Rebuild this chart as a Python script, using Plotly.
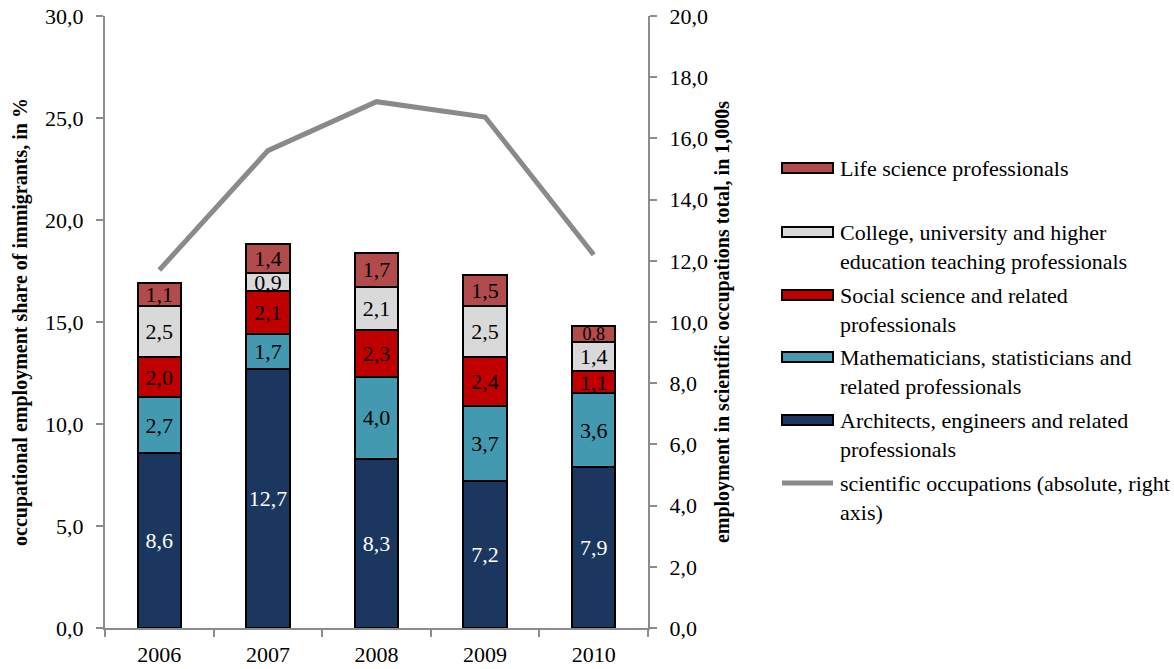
import plotly.graph_objects as go

# ---- data -------------------------------------------------------------
years = ["2006", "2007", "2008", "2009", "2010"]

architects = [8.6, 12.7, 8.3, 7.2, 7.9]
mathematicians = [2.7, 1.7, 4.0, 3.7, 3.6]
social_science = [2.0, 2.1, 2.3, 2.4, 1.1]
college_teaching = [2.5, 0.9, 2.1, 2.5, 1.4]
life_science = [1.1, 1.4, 1.7, 1.5, 0.8]

scientific_total = [11.7, 15.6, 17.2, 16.7, 12.2]  # in 1,000s, right axis

series_names = [
    "Architects, engineers and related professionals",
    "Mathematicians, statisticians and related professionals",
    "Social science and related professionals",
    "College, university and higher education teaching professionals",
    "Life science professionals",
]
legend_labels = [
    "Architects, engineers and related<br>professionals",
    "Mathematicians, statisticians and<br>related professionals",
    "Social science and related<br>professionals",
    "College, university and higher<br>education teaching professionals",
    "Life science professionals",
]
line_name = "scientific occupations (absolute, right axis)"
line_label = "scientific occupations (absolute, right<br>axis)"

series_values = [architects, mathematicians, social_science, college_teaching, life_science]
fill_colors = ["#1B375F", "#4399B0", "#C00000", "#D9D9D9", "#B24B4B"]
label_colors = ["white", "black", "black", "black", "black"]

FONT = "Liberation Serif"
AXIS_GRAY = "#8C8C8C"
TXT = 22

# ---- plot area geometry (pixels) --------------------------------------
W, H = 1174, 669
L, R, T, B = 105, 648, 16, 628


def px(x):
    return (x - L) / (R - L)


def py(y):
    return (B - y) / (B - T)


fig = go.Figure()

for name, vals, fc, tc in zip(series_names, series_values, fill_colors, label_colors):
    # very thin segments get a slightly smaller label so it stays legible
    sizes = [TXT if v >= 0.85 else 18 for v in vals]
    fig.add_trace(go.Bar(
        x=years, y=vals, name=name,
        marker=dict(color=fc, line=dict(color="black", width=2)),
        width=0.4,
        texttemplate="%{y:.1f}",
        textposition="inside",
        insidetextanchor="middle",
        textangle=0,
        constraintext="none",
        textfont=dict(family=FONT, size=sizes, color=tc),
        cliponaxis=False,
        showlegend=False,
        hoverinfo="skip",
    ))

fig.add_trace(go.Scatter(
    x=years, y=scientific_total, name=line_name, yaxis="y2",
    mode="lines", line=dict(color="#8A8A8A", width=5),
    showlegend=False, hoverinfo="skip",
))

# ---- hand-built legend on the right -----------------------------------
shapes = []
annotations = []
legend_rows = [(168, 4), (232, 3), (295, 2), (357, 1), (420, 0)]
for yc, idx in legend_rows:
    shapes.append(dict(
        type="rect", xref="paper", yref="paper",
        x0=px(782), x1=px(833), y0=py(yc + 5), y1=py(yc - 5),
        fillcolor=fill_colors[idx], line=dict(color="black", width=2),
    ))
    annotations.append(dict(
        xref="paper", yref="paper", x=px(838), y=py(yc - 14),
        xanchor="left", yanchor="top", align="left", showarrow=False,
        text=legend_labels[idx], font=dict(family=FONT, size=TXT, color="black"),
    ))

shapes.append(dict(
    type="line", xref="paper", yref="paper",
    x0=px(782), x1=px(833), y0=py(483), y1=py(483),
    line=dict(color="#8A8A8A", width=5),
))
annotations.append(dict(
    xref="paper", yref="paper", x=px(838), y=py(483 - 14),
    xanchor="left", yanchor="top", align="left", showarrow=False,
    text=line_label, font=dict(family=FONT, size=TXT, color="black"),
))

tick_font = dict(family=FONT, size=TXT, color="black")
title_font = dict(family=FONT, size=20, color="black")

fig.update_layout(
    width=W, height=H,
    margin=dict(l=L, r=W - R, t=T, b=H - B, pad=0, autoexpand=False),
    barmode="stack",
    plot_bgcolor="white", paper_bgcolor="white",
    separators=", ",
    font=dict(family=FONT, size=TXT, color="black"),
    xaxis=dict(
        type="category", automargin=False,
        showline=True, linecolor=AXIS_GRAY, linewidth=2,
        ticks="outside", tickson="boundaries", ticklen=7, tickcolor=AXIS_GRAY, tickwidth=2,
        tickfont=tick_font, ticklabelstandoff=6,
        showgrid=False, zeroline=False,
    ),
    yaxis=dict(
        range=[0, 30], dtick=5, tickformat=".1f", automargin=False,
        showline=True, linecolor=AXIS_GRAY, linewidth=2,
        ticks="outside", ticklen=7, tickcolor=AXIS_GRAY, tickwidth=2,
        tickfont=tick_font, ticklabelstandoff=8,
        showgrid=False, zeroline=False,
        title=dict(text="<b>occupational employment share of immigrants, in %</b>",
                   font=title_font, standoff=12),
    ),
    yaxis2=dict(
        overlaying="y", side="right", automargin=False,
        range=[0, 20], dtick=2, tickformat=".1f",
        showline=True, linecolor=AXIS_GRAY, linewidth=2,
        ticks="outside", ticklen=7, tickcolor=AXIS_GRAY, tickwidth=2,
        tickfont=tick_font, ticklabelstandoff=8,
        showgrid=False, zeroline=False,
        title=dict(text="<b>employment in scientific occupations total, in 1,000s</b>",
                   font=title_font, standoff=8),
    ),
    shapes=shapes,
    annotations=annotations,
    showlegend=False,
)

fig.write_html("out.html")
